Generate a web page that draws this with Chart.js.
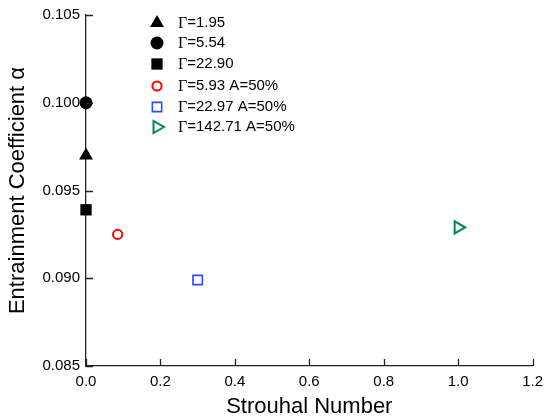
<!DOCTYPE html>
<html>
<head>
<meta charset="utf-8">
<script src="https://cdn.jsdelivr.net/npm/chart.js@4"></script>
<style>
  body { margin: 0; background: #fff; }
  #wrap { width: 550px; height: 418px; }
</style>
</head>
<body>
<div id="wrap"><canvas id="chart"></canvas></div>
<script>
// data
var seriesLabels = ['Γ=1.95', 'Γ=5.54', 'Γ=22.90', 'Γ=5.93 A=50%', 'Γ=22.97 A=50%', 'Γ=142.71 A=50%'];
var strouhal = [0.0, 0.0, 0.0, 0.085, 0.30, 1.0];
var alpha = [0.0970, 0.1000, 0.0939, 0.0925, 0.0899, 0.0929];
var xTicks = [0.0, 0.2, 0.4, 0.6, 0.8, 1.0, 1.2];
var yTicks = [0.085, 0.090, 0.095, 0.100, 0.105];

var markers = [
    {style: 'triangle', rot: 0,  r: 8,   fill: '#000', line: '#000', bw: 0},
    {style: 'circle',   rot: 0,  r: 6.5, fill: '#000', line: '#000', bw: 0},
    {style: 'rect',     rot: 0,  r: 8,   fill: '#000', line: '#000', bw: 0},
    {style: 'circle',   rot: 0,  r: 4.6, fill: '#fff', line: '#ff0000', bw: 2},
    {style: 'rect',     rot: 0,  r: 6.6, fill: '#fff', line: '#2a4dff', bw: 1.6},
    {style: 'triangle', rot: 90, r: 7,   fill: '#fff', line: '#00875a', bw: 2}
];

var datasets = seriesLabels.map(function(lab, i) {
    var m = markers[i];
    return {
        label: lab,
        data: [{x: strouhal[i], y: alpha[i]}],
        pointStyle: m.style,
        rotation: m.rot,
        pointRadius: m.r,
        pointHoverRadius: m.r,
        pointBackgroundColor: m.fill,
        pointBorderColor: m.line,
        pointBorderWidth: m.bw,
        showLine: false,
        clip: false
    };
});

// inward tick marks on left and bottom axes
var innerTicks = {
    id: 'innerTicks',
    afterDraw: function(chart) {
        var ctx = chart.ctx;
        var xs = chart.scales.x, ys = chart.scales.y;
        var a = chart.chartArea;
        ctx.save();
        ctx.strokeStyle = '#222';
        ctx.lineWidth = 1.3;
        ctx.beginPath();
        xTicks.forEach(function(v) {
            var px = Math.round(xs.getPixelForValue(v)) + 0.5;
            ctx.moveTo(px, a.bottom);
            ctx.lineTo(px, a.bottom - 7);
        });
        yTicks.forEach(function(v) {
            var py = Math.round(ys.getPixelForValue(v)) + 0.5;
            ctx.moveTo(a.left, py);
            ctx.lineTo(a.left + 7, py);
        });
        ctx.stroke();
        ctx.restore();
    }
};

// legend inside the plot, Γ in a serif face
var innerLegend = {
    id: 'innerLegend',
    afterDraw: function(chart) {
        var ctx = chart.ctx;
        var rows = [23, 43, 64, 86, 107, 127];
        ctx.save();
        chart.data.datasets.forEach(function(ds, i) {
            var m = markers[i];
            var y = rows[i];
            ctx.fillStyle = m.fill;
            ctx.strokeStyle = m.line;
            ctx.lineWidth = m.bw;
            Chart.helpers.drawPoint(ctx, {pointStyle: m.style, rotation: m.rot, radius: m.r, borderWidth: m.bw}, 157, y);
            ctx.fillStyle = '#000';
            ctx.textBaseline = 'middle';
            ctx.font = '16px "Liberation Serif"';
            ctx.fillText('Γ', 178, y + 1);
            var w = ctx.measureText('Γ').width;
            ctx.font = '15px "Liberation Sans"';
            ctx.fillText(ds.label.slice(1), 178 + w, y);
        });
        ctx.restore();
    }
};

new Chart(document.getElementById('chart'), {
    type: 'scatter',
    data: {datasets: datasets},
    plugins: [innerTicks, innerLegend],
    options: {
        responsive: true,
        maintainAspectRatio: false,
        animation: false,
        layout: {padding: {top: 14, right: 11, left: 0, bottom: 0}},
        plugins: {
            legend: {display: false},
            tooltip: {enabled: false}
        },
        scales: {
            x: {
                type: 'linear',
                min: 0,
                max: 1.2,
                afterFit: function(s) { s.height = 52; },
                afterBuildTicks: function(s) { s.ticks = xTicks.map(function(v) { return {value: v}; }); },
                grid: {display: false, drawTicks: false},
                border: {display: true, color: '#222', width: 1.3},
                ticks: {
                    color: '#000',
                    padding: 7,
                    font: {family: 'Liberation Sans', size: 15},
                    callback: function(v) { return v.toFixed(1); }
                },
                title: {
                    display: true,
                    text: 'Strouhal Number',
                    color: '#000',
                    padding: {bottom: 0},
                    font: {family: 'Liberation Sans', size: 22, lineHeight: 1}
                }
            },
            y: {
                type: 'linear',
                min: 0.085,
                max: 0.105,
                afterFit: function(s) { s.width = 86; },
                afterBuildTicks: function(s) { s.ticks = yTicks.map(function(v) { return {value: v}; }); },
                grid: {display: false, drawTicks: false},
                border: {display: true, color: '#222', width: 1.3},
                ticks: {
                    color: '#000',
                    padding: 6,
                    font: {family: 'Liberation Sans', size: 15},
                    callback: function(v) { return v.toFixed(3); }
                },
                title: {
                    display: true,
                    text: 'Entrainment Coefficient α',
                    color: '#000',
                    padding: {top: 5},
                    font: {family: 'Liberation Sans', size: 22}
                }
            }
        }
    }
});
</script>
</body>
</html>
